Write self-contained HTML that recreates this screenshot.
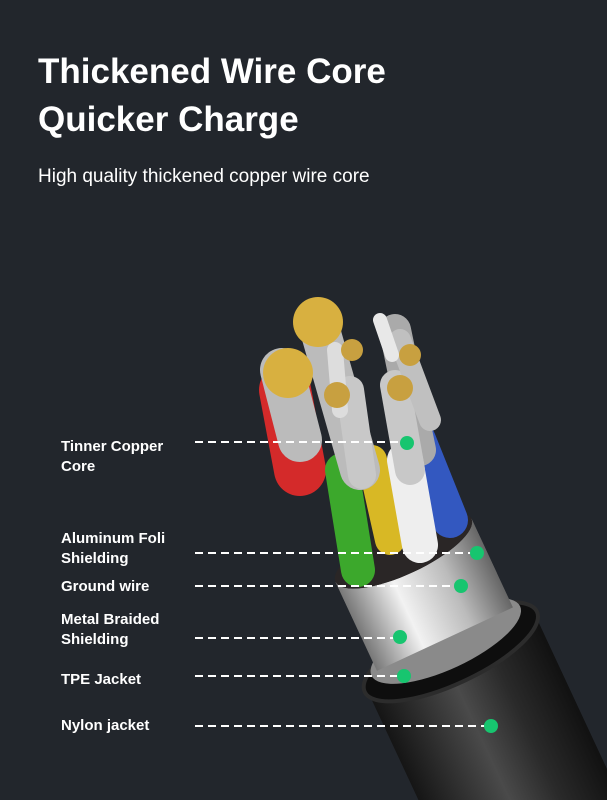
<!DOCTYPE html>
<html><head><meta charset="utf-8"><style>
html,body{margin:0;width:607px;height:800px;overflow:hidden}
body{background:#22262c;position:relative;font-family:"Liberation Sans","Noto Sans CJK SC",sans-serif;color:#fff}
.t{position:absolute;left:38px;font-weight:bold;font-size:35px;line-height:48px}
.s{position:absolute;left:38px;top:166px;font-size:19px}
.l{position:absolute;left:61px;font-size:15px;font-weight:bold;line-height:20px}
svg{position:absolute;left:0;top:0;display:block;overflow:hidden}
</style></head><body>
<div class="t" style="top:48px">Thickened Wire Core<br>Quicker Charge</div>
<div class="s">High quality thickened copper wire core</div>
<svg width="607" height="800" viewBox="0 0 607 800">
<defs>
<linearGradient id="sil" x1="0" x2="1"><stop offset="0" stop-color="#777"/><stop offset=".35" stop-color="#f2f2f2"/><stop offset=".7" stop-color="#bbb"/><stop offset="1" stop-color="#666"/></linearGradient>
<linearGradient id="blk" x1="0" x2="1"><stop offset="0" stop-color="#151515"/><stop offset=".45" stop-color="#4a4a4a"/><stop offset=".7" stop-color="#2a2a2a"/><stop offset="1" stop-color="#111"/></linearGradient>
</defs>
<!-- cable body -->
<g transform="rotate(-25 450 650)">
<rect x="358" y="650" width="184" height="260" fill="url(#blk)"/>
<ellipse cx="450" cy="652" rx="95" ry="32" fill="#0e0e0e" stroke="#2c2c2c" stroke-width="4"/>
<ellipse cx="450" cy="640" rx="82" ry="28" fill="#8a8a8a"/>
<rect x="375" y="540" width="150" height="98" fill="url(#sil)"/>
<ellipse cx="450" cy="540" rx="75" ry="24" fill="#2a2626"/>
</g>
<!-- wires -->
<g stroke-linecap="round">
<line x1="300" y1="470" x2="285" y2="390" stroke="#d42a2a" stroke-width="52"/>
<line x1="450" y1="520" x2="418" y2="440" stroke="#3358c0" stroke-width="36"/>
<line x1="420" y1="450" x2="395" y2="330" stroke="#aaa" stroke-width="32"/>
<line x1="390" y1="540" x2="372" y2="460" stroke="#d8b825" stroke-width="30"/>
<line x1="420" y1="545" x2="405" y2="460" stroke="#eee" stroke-width="36"/>
<line x1="358" y1="570" x2="342" y2="470" stroke="#3ca82c" stroke-width="34"/>
<line x1="300" y1="440" x2="282" y2="370" stroke="#bbb" stroke-width="44"/>
<line x1="360" y1="470" x2="320" y2="330" stroke="#bbb" stroke-width="40"/>
<line x1="362" y1="475" x2="350" y2="390" stroke="#c8c8c8" stroke-width="28"/>
<line x1="410" y1="470" x2="395" y2="385" stroke="#c8c8c8" stroke-width="30"/>
<line x1="430" y1="420" x2="400" y2="340" stroke="#c0c0c0" stroke-width="22"/>
<line x1="340" y1="410" x2="335" y2="350" stroke="#ddd" stroke-width="16"/>
<line x1="392" y1="355" x2="380" y2="320" stroke="#e8e8e8" stroke-width="14"/>
</g>
<circle cx="318" cy="322" r="25" fill="#d8b040"/>
<circle cx="288" cy="373" r="25" fill="#d8b040"/>
<circle cx="337" cy="395" r="13" fill="#c8a040"/>
<circle cx="400" cy="388" r="13" fill="#c8a040"/>
<circle cx="410" cy="355" r="11" fill="#c8a040"/>
<circle cx="352" cy="350" r="11" fill="#c8a040"/>
<!-- foil front rim over wires -->
<g transform="rotate(-25 450 650)">
<path d="M375 540 A75 24 0 0 0 525 540 L525 600 L375 600 Z" fill="url(#sil)"/>
</g>
<g stroke="#fff" stroke-width="2" stroke-dasharray="8 5">
<line x1="195" y1="442" x2="407" y2="442"/>
<line x1="195" y1="553" x2="477" y2="553"/>
<line x1="195" y1="586" x2="461" y2="586"/>
<line x1="195" y1="638" x2="400" y2="638"/>
<line x1="195" y1="676" x2="404" y2="676"/>
<line x1="195" y1="726" x2="491" y2="726"/>
</g>
<g fill="#17c56f">
<circle cx="407" cy="443" r="7"/><circle cx="477" cy="553" r="7"/><circle cx="461" cy="586" r="7"/>
<circle cx="400" cy="637" r="7"/><circle cx="404" cy="676" r="7"/><circle cx="491" cy="726" r="7"/>
</g>
</svg>
<div class="l" style="top:437px">Tinner Copper<br>Core</div>
<div class="l" style="top:529px">Aluminum Foli<br>Shielding</div>
<div class="l" style="top:577px">Ground wire</div>
<div class="l" style="top:610px">Metal Braided<br>Shielding</div>
<div class="l" style="top:670px">TPE Jacket</div>
<div class="l" style="top:716px">Nylon jacket</div>
</body></html>
